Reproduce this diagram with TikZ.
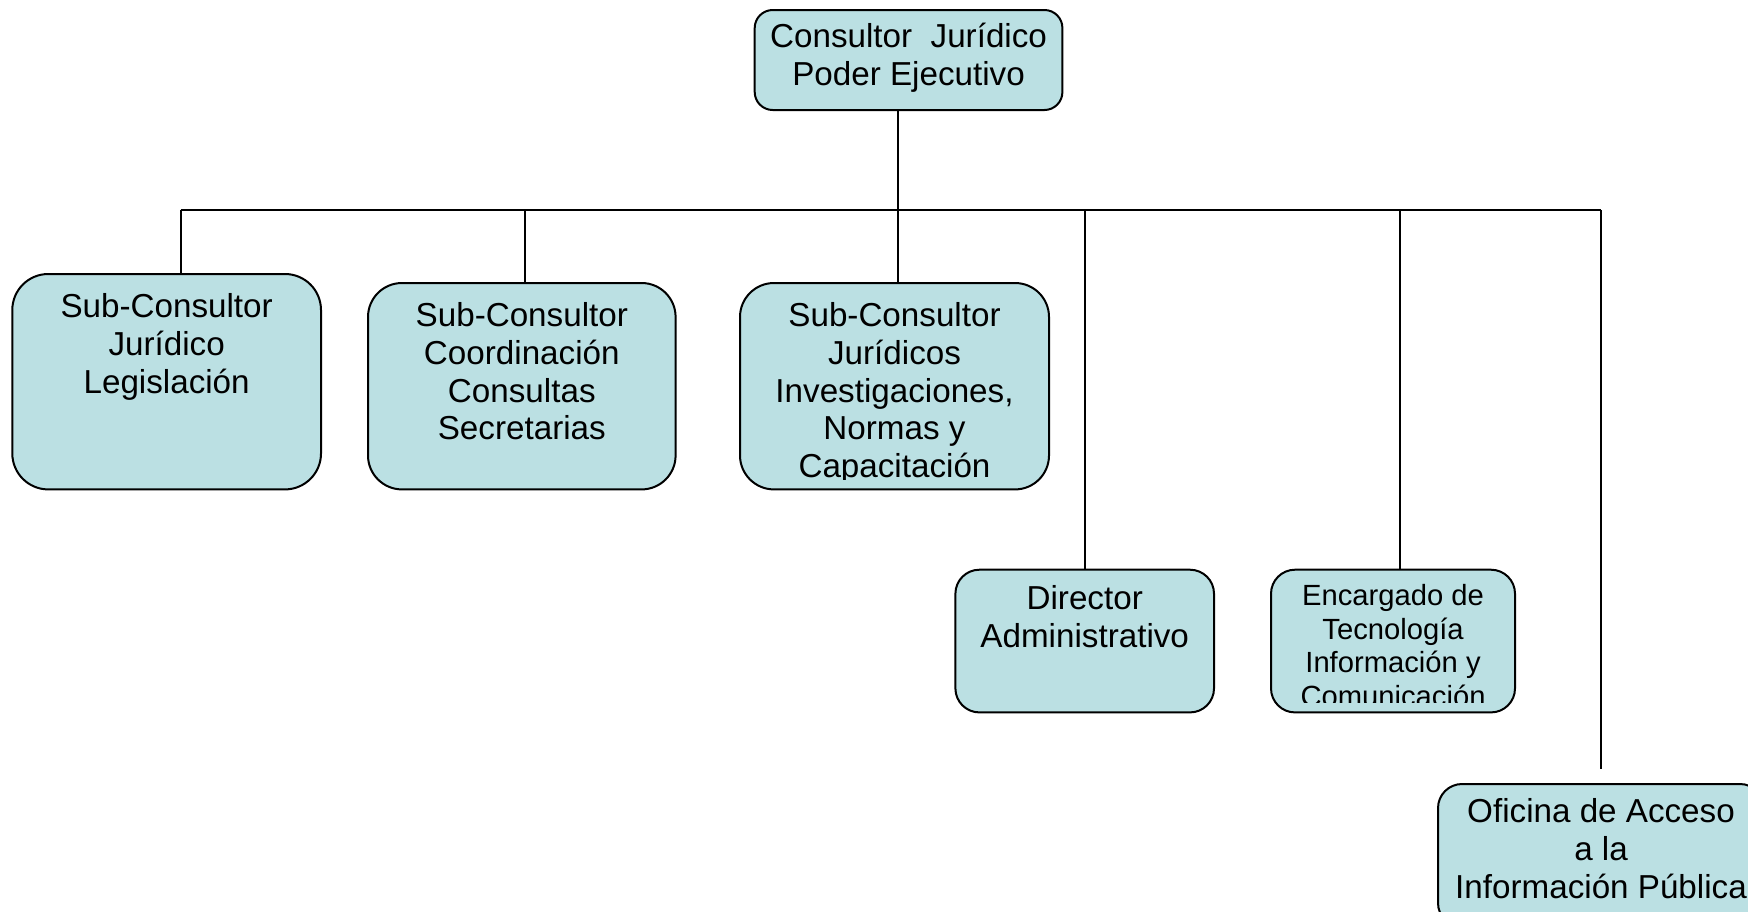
\documentclass[tikz,border=0pt]{standalone}
\usepackage{fontspec}
\setmainfont{Liberation Sans}
\definecolor{boxfill}{RGB}{187,224,227}
\tikzset{
  box/.style={draw=black, line width=1pt, fill=boxfill, rounded corners=#1, inner sep=0pt, rectangle},
  box/.default=12pt,
  txt/.style={anchor=north, inner sep=0pt, align=center, font=\fontsize{16.6}{18.9}\selectfont},
  smalltxt/.style={anchor=north, inner sep=0pt, align=center, font=\fontsize{14.6}{16.7}\selectfont},
  wire/.style={draw=black, line width=1pt}
}
\newcommand{\fl}{\rule{0pt}{16pt}}
\begin{document}
\begin{tikzpicture}[x=0.5pt,y=-0.5pt]
\clip (0,0) rectangle (1748,911);
\fill[white] (0,0) rectangle (1748,911);

% boxes
\node[box=9pt, minimum width=153.85pt, minimum height=50pt] (top) at (908.55,60) {};
\node[box=18pt, minimum width=154.35pt, minimum height=107.7pt] (b1) at (166.65,381.7) {};
\node[box=17pt, minimum width=153.8pt, minimum height=103.2pt] (b2) at (521.8,386.2) {};
\node[box=17pt, minimum width=154.5pt, minimum height=103.2pt] (b3) at (894.5,386.2) {};
\node[box=12pt, minimum width=129.3pt, minimum height=71.35pt] (dir) at (1084.7,641.05) {};
\node[box=12pt, minimum width=122pt, minimum height=71.35pt] (enc) at (1393,641.05) {};
\node[box=12pt, minimum width=163pt, minimum height=71.5pt] (ofi) at (1601,855.5) {};

% texts
\begin{scope}
\clip (top.north west) rectangle ([yshift=3pt]top.south east);
\node[txt] (ttop) at (908.55,15.2) {\fl Consultor~\ Jurídico\\Poder Ejecutivo};
\end{scope}
\begin{scope}
\clip (b1.north west) rectangle ([yshift=5.5pt]b1.south east);
\node[txt] (tb1) at (166.65,285) {\fl Sub-Consultor\\Jurídico\\Legislación};
\end{scope}
\begin{scope}
\clip (b2.north west) rectangle ([yshift=5.5pt]b2.south east);
\node[txt] (tb2) at (521.8,294) {\fl Sub-Consultor\\Coordinación\\Consultas\\Secretarias};
\end{scope}
\begin{scope}
\clip (b3.north west) rectangle ([yshift=5.5pt]b3.south east);
\node[txt] (tb3) at (894.5,294) {\fl Sub-Consultor\\Jurídicos\\Investigaciones,\\Normas y\\Capacitación};
\end{scope}
\begin{scope}
\clip (dir.north west) rectangle ([yshift=5.5pt]dir.south east);
\node[txt] (tdir) at (1084.7,577) {\fl Director\\Administrativo};
\end{scope}
\begin{scope}
\clip (enc.north west) rectangle ([yshift=5.3pt]enc.south east);
\node[smalltxt] (tenc) at (1393,573.5) {\fl Encargado de\\Tecnología\\Información y\\Comunicación};
\end{scope}
\node[txt] (tofi) at (1601,790.5) {\fl Oficina de Acceso\\a la\\Información Pública};

% connector coordinates on the bus
\coordinate (j1) at (180.6,210);
\coordinate (j2) at (525,210);
\coordinate (j3) at (897.5,210);
\coordinate (j4) at (1084.7,210);
\coordinate (j5) at (1400,210);
\coordinate (j6) at (1601,210);
\coordinate (ofiend) at (1601,769);

\draw[wire] (j1) -- (j6);
\draw[wire] (j3 |- top.south) -- (j3 |- b3.north);
\draw[wire] (j1) -- (j1 |- b1.north);
\draw[wire] (j2) -- (j2 |- b2.north);
\draw[wire] (j4) -- (j4 |- dir.north);
\draw[wire] (j5) -- (j5 |- enc.north);
\draw[wire] (j6) -- (ofiend);
\end{tikzpicture}
\end{document}
